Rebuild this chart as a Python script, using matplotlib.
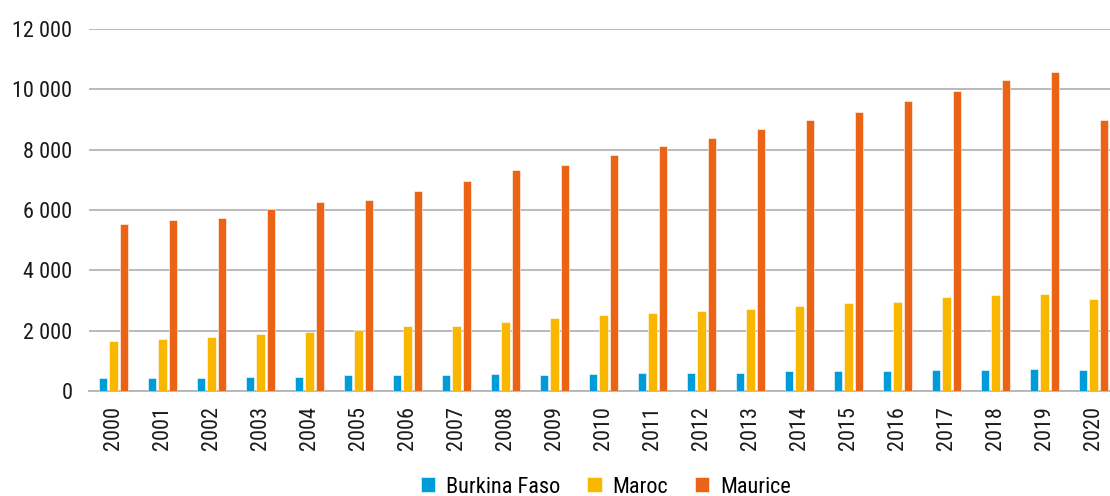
import numpy as np
import matplotlib
matplotlib.use('Agg')
import matplotlib.pyplot as plt
from matplotlib.ticker import FuncFormatter

plt.rcParams['font.family'] = ['Roboto Condensed', 'Archivo Narrow', 'Liberation Sans Narrow', 'DejaVu Sans']

years = [str(y) for y in range(2000, 2021)]
burkina = [420, 420, 420, 465, 465, 520, 520, 520, 565, 520, 565,
           610, 610, 610, 655, 655, 655, 700, 700, 740, 700]
maroc = [1650, 1740, 1780, 1880, 1970, 2015, 2150, 2150, 2280, 2410, 2510,
         2600, 2650, 2730, 2820, 2910, 2960, 3100, 3190, 3230, 3045]
maurice = [5550, 5680, 5730, 6045, 6280, 6320, 6630, 6950, 7320, 7490, 7815,
           8125, 8400, 8680, 8990, 9255, 9630, 9950, 10305, 10585, 8990]
series = ['Burkina Faso', 'Maroc', 'Maurice']
colors = ['#009bd9', '#f9b700', '#eb6416']

fig = plt.figure(figsize=(11.1, 4.96), dpi=100)
ax = fig.add_axes([0.0802, 0.2117, 0.927, 0.7298])

x = np.arange(len(years))
w = 0.175
for i, (vals, name, col) in enumerate(zip([burkina, maroc, maurice], series, colors)):
    ax.bar(x + (i - 1) * 0.215, vals, w, color=col, label=name,
           edgecolor='#ffffff', linewidth=0.4, zorder=3)

ax.set_xlim(-0.5, len(years) - 0.5)
ax.set_ylim(0, 12000)
ax.set_yticks(range(0, 12001, 2000))
ax.yaxis.set_major_formatter(FuncFormatter(lambda v, p: f'{int(v):,}'.replace(',', ' ')))
ax.set_xticks(x)
ax.set_xticklabels(years, rotation=90)
ax.grid(axis='y', color='#b4b4b4', linewidth=1.3, zorder=0)
for s in ['top', 'right', 'left']:
    ax.spines[s].set_visible(False)
ax.spines['bottom'].set_color('#b4b4b4')
ax.spines['bottom'].set_linewidth(1.3)
ax.tick_params(axis='both', length=0, labelsize=16, colors='#1a1a1a')
ax.tick_params(axis='y', pad=12)
ax.tick_params(axis='x', pad=11)

fig.legend(*ax.get_legend_handles_labels(), loc='center',
           bbox_to_anchor=(606 / 1110, 0.018), ncol=3, frameon=False,
           fontsize=16, handlelength=0.65, handleheight=0.65, handletextpad=0.5,
           columnspacing=1.2, borderpad=0)

fig.savefig('out.png', dpi=100)
